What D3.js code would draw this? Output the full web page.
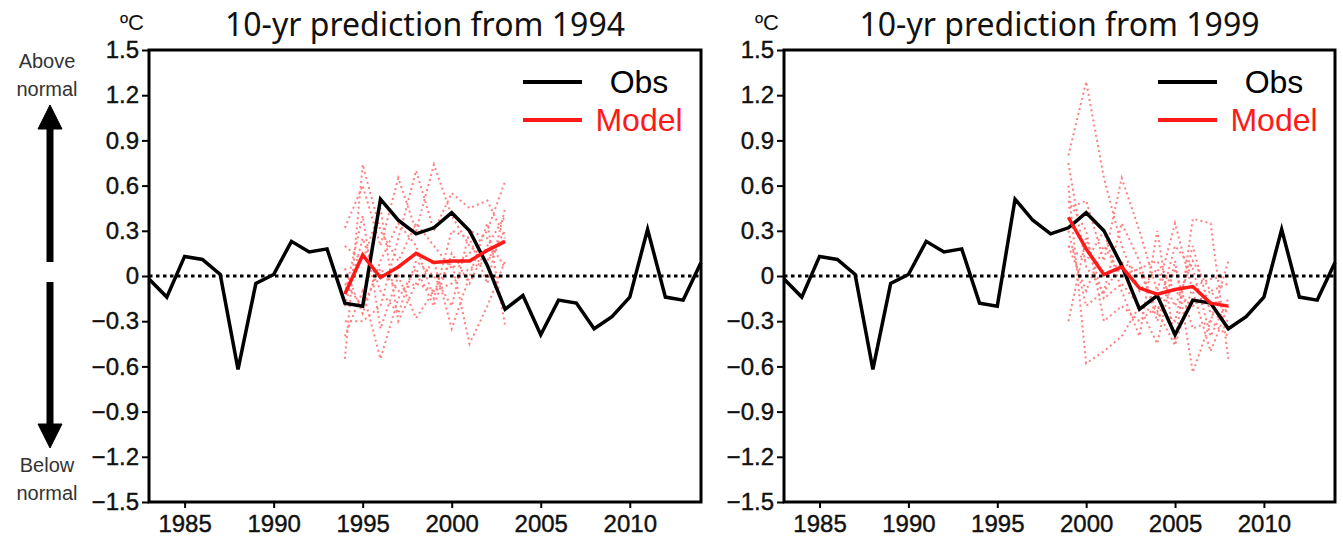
<!DOCTYPE html>
<html>
<head>
<meta charset="utf-8">
<script src="https://cdn.jsdelivr.net/npm/d3@7"></script>
<style>
  body { margin: 0; background: #fff; }
  text { font-family: "Liberation Sans", Arial, sans-serif; }
</style>
</head>
<body>
<div id="chart"></div>
<script>
// Années et valeurs
const years = [1983, 1984, 1985, 1986, 1987, 1988, 1989, 1990, 1991, 1992,
  1993, 1994, 1995, 1996, 1997, 1998, 1999, 2000, 2001, 2002, 2003, 2004,
  2005, 2006, 2007, 2008, 2009, 2010, 2011, 2012, 2013, 2014];
const obs = [-0.02, -0.14, 0.13, 0.11, 0.01, -0.62, -0.05, 0.01, 0.23, 0.16,
  0.18, -0.18, -0.20, 0.51, 0.37, 0.28, 0.32, 0.42, 0.30, 0.07, -0.22, -0.13,
  -0.39, -0.16, -0.18, -0.35, -0.27, -0.14, 0.31, -0.14, -0.16, 0.09];

// Prévision à partir de 1994 (moyenne et membres)
const years1994 = [1994, 1995, 1996, 1997, 1998, 1999, 2000, 2001, 2002, 2003];
const model1994 = [-0.12, 0.14, -0.01, 0.06, 0.15, 0.09, 0.10, 0.10, 0.17, 0.23];
const members1994 = [
  [-0.55, 0.74, 0.30, 0.10, 0.35, 0.20, 0.05, 0.15, 0.30, 0.63],
  [-0.40, -0.10, -0.55, -0.15, 0.05, -0.20, 0.15, -0.05, 0.20, 0.40],
  [0.32, 0.60, 0.20, 0.65, 0.30, 0.74, 0.40, 0.20, 0.10, 0.30],
  [-0.30, -0.30, -0.20, 0.25, 0.70, 0.30, 0.55, 0.45, 0.50, 0.25],
  [0.20, 0.10, 0.45, -0.30, -0.05, 0.10, -0.35, 0.00, 0.35, -0.33],
  [-0.12, 0.40, -0.35, 0.00, -0.28, -0.10, 0.10, -0.45, -0.20, 0.10],
  [0.05, -0.25, 0.10, 0.35, 0.20, -0.15, 0.30, 0.25, -0.05, 0.45],
  [-0.20, 0.25, -0.10, -0.25, 0.10, 0.00, -0.20, 0.30, 0.25, 0.05],
  [-0.05, -0.20, 0.05, -0.10, -0.05, -0.10, -0.05, 0.05, 0.10, 0.25]
];

// Prévision à partir de 1999
const years1999 = [1999, 2000, 2001, 2002, 2003, 2004, 2005, 2006, 2007, 2008];
const model1999 = [0.39, 0.18, 0.01, 0.06, -0.08, -0.12, -0.09, -0.07, -0.18, -0.20];
const members1999 = [
  [0.80, 1.29, 0.65, 0.20, -0.10, 0.05, -0.20, 0.10, -0.10, -0.05],
  [0.60, -0.58, -0.50, -0.40, -0.20, -0.45, 0.10, -0.64, -0.30, -0.40],
  [0.45, 0.50, 0.10, 0.65, 0.30, -0.10, 0.35, -0.10, -0.50, -0.20],
  [0.20, 0.10, 0.30, -0.10, -0.40, 0.30, -0.45, 0.38, 0.35, -0.55],
  [0.30, -0.20, -0.10, 0.35, 0.10, -0.30, 0.05, -0.35, -0.30, 0.10],
  [0.50, 0.30, -0.30, -0.20, -0.30, -0.20, -0.30, 0.20, -0.25, -0.30],
  [0.20, -0.10, 0.20, 0.00, 0.05, 0.10, -0.10, -0.20, -0.10, -0.25],
  [-0.30, 0.25, -0.15, -0.05, -0.20, -0.25, 0.20, 0.05, -0.40, -0.15],
  [0.75, 0.06, -0.11, 0.09, 0.03, -0.23, -0.46, -0.07, -0.02, 0.00]
];

const xTicks = [1985, 1990, 1995, 2000, 2005, 2010];
const yTicks = [-1.5, -1.2, -0.9, -0.6, -0.3, 0, 0.3, 0.6, 0.9, 1.2, 1.5];

const width = 1343, height = 542;
const yTop = 50, yBottom = 502;

const panels = [
  { x0: 149, x1: 701, title: "10-yr prediction from 1994",
    fy: years1994, model: model1994, members: members1994 },
  { x0: 784, x1: 1335, title: "10-yr prediction from 1999",
    fy: years1999, model: model1999, members: members1999 }
];

const svg = d3.select("#chart").append("svg")
  .attr("width", width)
  .attr("height", height);

const y = d3.scaleLinear().domain([-1.5, 1.5]).range([yBottom, yTop]);

panels.forEach(p => {
  const x = d3.scaleLinear().domain([1983, 2014]).range([p.x0, p.x1]);
  const g = svg.append("g");
  const line = d3.line().x(d => x(d[0])).y(d => y(d[1]));

  // membres de l'ensemble en pointillés
  p.members.forEach(m => {
    g.append("path")
      .attr("d", line(p.fy.map((yr, i) => [yr, m[i]])))
      .attr("fill", "none")
      .attr("stroke", "#ff8080")
      .attr("stroke-width", 2)
      .attr("stroke-dasharray", "2,3.2");
  });

  // ligne zéro
  g.append("line")
    .attr("x1", p.x0).attr("x2", p.x1)
    .attr("y1", y(0)).attr("y2", y(0))
    .attr("stroke", "#000")
    .attr("stroke-width", 2.8)
    .attr("stroke-dasharray", "3.5,3.5");

  g.append("path")
    .attr("d", line(years.map((yr, i) => [yr, obs[i]])))
    .attr("fill", "none")
    .attr("stroke", "#000")
    .attr("stroke-width", 3.5)
    .attr("stroke-linejoin", "miter");

  g.append("path")
    .attr("d", line(p.fy.map((yr, i) => [yr, p.model[i]])))
    .attr("fill", "none")
    .attr("stroke", "#ff1a1a")
    .attr("stroke-width", 3.5);

  // axes
  const yAxis = d3.axisLeft(y).tickValues(yTicks).tickSize(7).tickPadding(3)
    .tickFormat(d => d === 0 ? "0" : d3.format(".1f")(d));
  const xAxis = d3.axisBottom(x).tickValues(xTicks).tickSize(6).tickPadding(7)
    .tickFormat(d3.format("d"));

  const ya = g.append("g").attr("transform", `translate(${p.x0},0)`).call(yAxis);
  const xa = g.append("g").attr("transform", `translate(0,${yBottom})`).call(xAxis);
  [ya, xa].forEach(a => {
    a.select(".domain").remove();
    a.selectAll("line").attr("stroke", "#000").attr("stroke-width", 2);
    a.selectAll("text").attr("fill", "#111").style("font-size", "24px")
      .attr("stroke", "#111").attr("stroke-width", 0.4);
  });

  g.append("rect")
    .attr("x", p.x0).attr("y", yTop)
    .attr("width", p.x1 - p.x0).attr("height", yBottom - yTop)
    .attr("fill", "none")
    .attr("stroke", "#000")
    .attr("stroke-width", 3);

  // titre et unité
  g.append("text")
    .attr("x", (p.x0 + p.x1) / 2).attr("y", 36)
    .attr("text-anchor", "middle")
    .style("font-family", "'Noto Sans', sans-serif")
    .style("font-size", "32px")
    .attr("fill", "#111")
    .text(p.title);

  g.append("text")
    .attr("x", p.x0 - 5).attr("y", 30)
    .attr("text-anchor", "end")
    .style("font-size", "22px")
    .attr("fill", "#111")
    .text("ºC");

  // légende
  const lx = p.x0 + 374;
  const legend = [["Obs", "#000", 82, 93], ["Model", "#ff1a1a", 120, 131]];
  legend.forEach(([name, col, ly, ty]) => {
    g.append("line")
      .attr("x1", lx).attr("x2", lx + 59)
      .attr("y1", ly).attr("y2", ly)
      .attr("stroke", col).attr("stroke-width", 4);
    g.append("text")
      .attr("x", lx + 116).attr("y", ty)
      .attr("text-anchor", "middle")
      .style("font-size", "32px")
      .attr("fill", col)
      .text(name);
  });
});

// flèches au-dessus / au-dessous de la normale
const side = svg.append("g").attr("fill", "#333").style("font-size", "20px");
[["Above", 68], ["normal", 96], ["Below", 472], ["normal", 500]].forEach(([t, ty]) => {
  side.append("text").attr("x", 47).attr("y", ty)
    .attr("text-anchor", "middle").text(t);
});
const arrows = svg.append("g").attr("fill", "#000").attr("stroke", "#000");
arrows.append("line").attr("x1", 50).attr("x2", 50).attr("y1", 262).attr("y2", 125)
  .attr("stroke-width", 7);
arrows.append("path").attr("d", "M38,129 L62,129 L50,105 Z");
arrows.append("line").attr("x1", 50).attr("x2", 50).attr("y1", 282).attr("y2", 428)
  .attr("stroke-width", 7);
arrows.append("path").attr("d", "M38,424 L62,424 L50,448 Z");
</script>
</body>
</html>
